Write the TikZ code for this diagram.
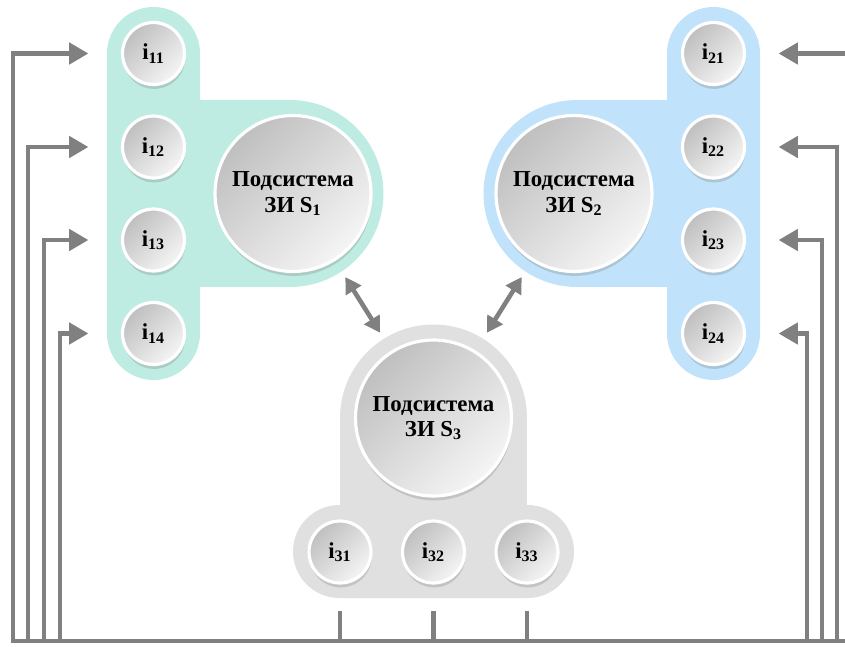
\documentclass[tikz,border=0pt]{standalone}
\usepackage{fontspec}
\setmainfont{Liberation Serif}
\usetikzlibrary{positioning, arrows.meta, shadows, calc}
\definecolor{zigreen}{HTML}{BEECE3}
\definecolor{ziblue}{HTML}{C0E3FB}
\definecolor{zigray}{HTML}{E0E0E0}
\definecolor{wiregray}{HTML}{808080}

\begin{document}
\begin{tikzpicture}[x=0.02cm, y=-0.02cm, font=\fontsize{13}{14.5}\selectfont\bfseries,
  ball/.style={circle, draw=white, line width=1.8pt, inner sep=0pt,
    left color=black!25, right color=black!4, shading angle=45,
    drop shadow={shadow xshift=0.4pt, shadow yshift=-2.5pt, opacity=0.3}},
  inball/.style={ball, minimum size=1.24cm},
  subsys/.style={ball, minimum size=3.12cm, align=center},
  wire/.style={wiregray, line width=2.6pt, line cap=rect},
  feed/.style={wire, -{Triangle[length=11pt, width=12pt]}},
  link/.style={wire, {Triangle[length=9pt, width=10pt]}-{Triangle[length=9pt, width=10pt]},
    shorten <=0.38cm, shorten >=0.42cm}]
  \useasboundingbox (0,0) rectangle (845,646);

  % background shapes
  \fill[zigreen, rounded corners=0.93cm] (107,7) rectangle (200,380);
  \fill[zigreen] (150,100) rectangle (290,287);
  \fill[zigreen] (290,193.5) circle[radius=1.87cm];
  \fill[ziblue, rounded corners=0.93cm] (667,7) rectangle (760,380);
  \fill[ziblue] (577,100) rectangle (717,287);
  \fill[ziblue] (577,193.5) circle[radius=1.87cm];
  \fill[zigray] (433.5,418) circle[radius=1.87cm];
  \fill[zigray] (340,418) rectangle (527,552);
  \fill[zigray, rounded corners=0.93cm] (293,505) rectangle (574,598);

  % subsystems
  \node[subsys] (S1) at (293,193.5) {Подсистема\\ЗИ S\textsubscript{1}};
  \node[subsys] (S2) at (574,193.5) {Подсистема\\ЗИ S\textsubscript{2}};
  \node[subsys] (S3) at (433.5,418) {Подсистема\\ЗИ S\textsubscript{3}};

  % inputs
  \foreach \k/\y in {1/53.5, 2/147, 3/240, 4/333.5} {
    \node[inball] (i1\k) at (153.5,\y) {i\textsubscript{1\k}};
    \node[inball] (i2\k) at (713.5,\y) {i\textsubscript{2\k}};
  }
  \foreach \k/\x in {1/340, 2/433.5, 3/527} {
    \node[inball] (i3\k) at (\x,552) {i\textsubscript{3\k}};
  }

  % links between subsystems
  \draw[link] (S1) -- (S3);
  \draw[link] (S2) -- (S3);

  % bus
  \coordinate (busL) at (13,641);
  \coordinate (busR) at (845,641);
  \draw[wire] (busL) -- (busR);
  \foreach \k/\x in {1/13, 2/28, 3/44, 4/60} {
    \coordinate (t1\k) at (\x,641);
    \draw[feed] (t1\k) |- ([xshift=-0.65cm]i1\k.west);
  }
  \foreach \k/\x in {2/837, 3/822, 4/807} {
    \coordinate (t2\k) at (\x,641);
    \draw[feed] (t2\k) |- ([xshift=0.65cm]i2\k.east);
  }
  \coordinate (t21) at (845,53.5);
  \draw[feed] (t21) -- ([xshift=0.65cm]i21.east);
  \foreach \k/\x in {1/340, 2/433.5, 3/527} {
    \coordinate (u3\k) at (\x,613);
    \draw[wire] (u3\k) -- (u3\k |- busL);
  }
\end{tikzpicture}
\end{document}
